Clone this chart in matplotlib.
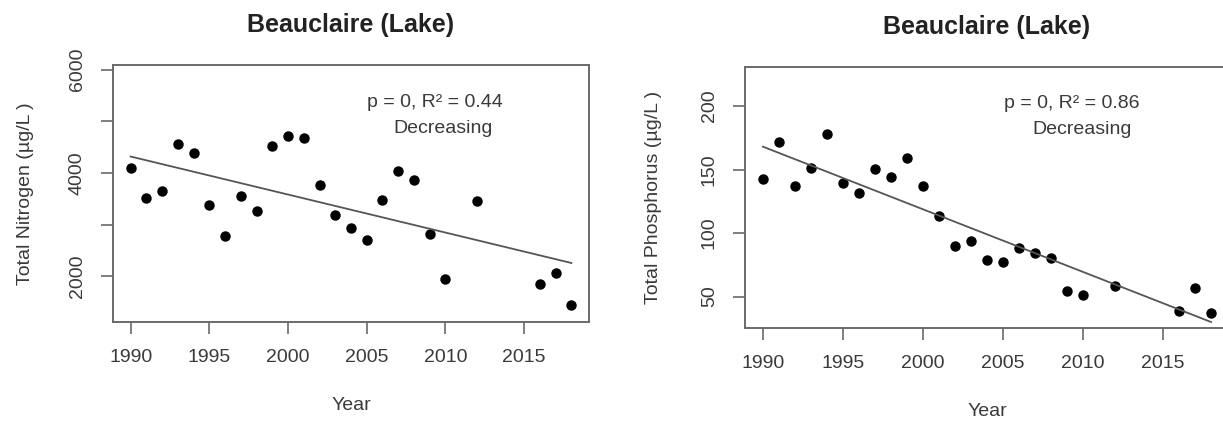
import matplotlib
matplotlib.use("Agg")
import matplotlib.pyplot as plt

plt.rcParams["font.family"] = ["Liberation Sans", "DejaVu Sans"]

# ---- data ----
years = [1990, 1991, 1992, 1993, 1994, 1995, 1996, 1997, 1998, 1999, 2000, 2001, 2002,
         2003, 2004, 2005, 2006, 2007, 2008, 2009, 2010, 2012, 2016, 2017, 2018]
nitrogen = [4100, 3520, 3650, 4560, 4380, 3380, 2780, 3555, 3260, 4530, 4720, 4670, 3760,
            3195, 2930, 2710, 3475, 4035, 3860, 2815, 1950, 3450, 1845, 2065, 1445]
phosphorus = [142.5, 171.4, 136.7, 151.4, 178.2, 139.6, 131.7, 150.6, 143.8, 159.3, 136.7,
              113.1, 90.2, 94.1, 79.2, 77.4, 88.1, 84.4, 80.2, 54.7, 51.6, 58.4, 39.0, 56.5, 36.8]

trend_years = [1990, 2018]
nitrogen_trend = [4320, 2260]
phosphorus_trend = [168, 30]

n_yticks = [2000, 3000, 4000, 5000, 6000]
n_yticklabels = ["2000", "", "4000", "", "6000"]
p_yticks = [50, 100, 150, 200]
x_ticks = [1990, 1995, 2000, 2005, 2010, 2015]

W, H = 1223, 423
fig = plt.figure(figsize=(W / 100, H / 100), dpi=100)

txt = "#3a3a3a"
edge = "#6a6a6a"
fs = 14


def px_axes(x0, y0, x1, y1):
    # pixel box (top-left origin) -> figure fraction
    return fig.add_axes([x0 / W, 1 - y1 / H, (x1 - x0) / W, (y1 - y0) / H])


def style(ax, yticks, ylabels, ylabel, ylabelpad):
    for s in ax.spines.values():
        s.set_color(edge)
        s.set_linewidth(1.4)
    ax.set_xticks(x_ticks)
    ax.set_xticklabels([str(t) for t in x_ticks])
    ax.set_yticks(yticks)
    ax.set_yticklabels(ylabels, rotation=90, va="center")
    ax.tick_params(axis="both", length=8.5, width=1.2, color=edge,
                   labelsize=fs, labelcolor=txt)
    ax.tick_params(axis="x", pad=11)
    ax.tick_params(axis="y", pad=11)
    ax.set_xlabel("Year", fontsize=fs, color=txt, labelpad=22)
    ax.set_ylabel(ylabel, fontsize=fs, color=txt, labelpad=ylabelpad)
    ax.set_title("Beauclaire (Lake)", fontsize=18, fontweight="bold",
                 color="#222222", pad=24)
    ax.set_xlim(1988.88, 2019.12)


# left panel: nitrogen
ax1 = px_axes(113, 65, 589, 322)
ax1.plot(years, nitrogen, "o", color="black", markersize=6.5, linestyle="none")
ax1.plot(trend_years, nitrogen_trend, color="#555555", linewidth=1.3)
ax1.set_ylim(1118, 6091)
style(ax1, n_yticks, n_yticklabels, "Total Nitrogen (\u00b5g/L )", 25)
ax1.text(0.676, 0.855, "p = 0, R\u00b2 = 0.44", transform=ax1.transAxes,
         ha="center", va="center", fontsize=fs, color=txt)
ax1.text(0.693, 0.753, "Decreasing", transform=ax1.transAxes,
         ha="center", va="center", fontsize=fs, color=txt)

# right panel: phosphorus (cut off at the right edge of the picture)
ax2 = px_axes(745, 67, 1229, 328)
ax2.plot(years, phosphorus, "o", color="black", markersize=6.5, linestyle="none")
ax2.plot(trend_years, phosphorus_trend, color="#555555", linewidth=1.3)
ax2.set_ylim(25.3, 230.7)
style(ax2, p_yticks, [str(t) for t in p_yticks], "Total Phosphorus (\u00b5g/L )", 28)
ax2.text(0.676, 0.86, "p = 0, R\u00b2 = 0.86", transform=ax2.transAxes,
         ha="center", va="center", fontsize=fs, color=txt)
ax2.text(0.696, 0.762, "Decreasing", transform=ax2.transAxes,
         ha="center", va="center", fontsize=fs, color=txt)

fig.savefig("out.png", dpi=100)
